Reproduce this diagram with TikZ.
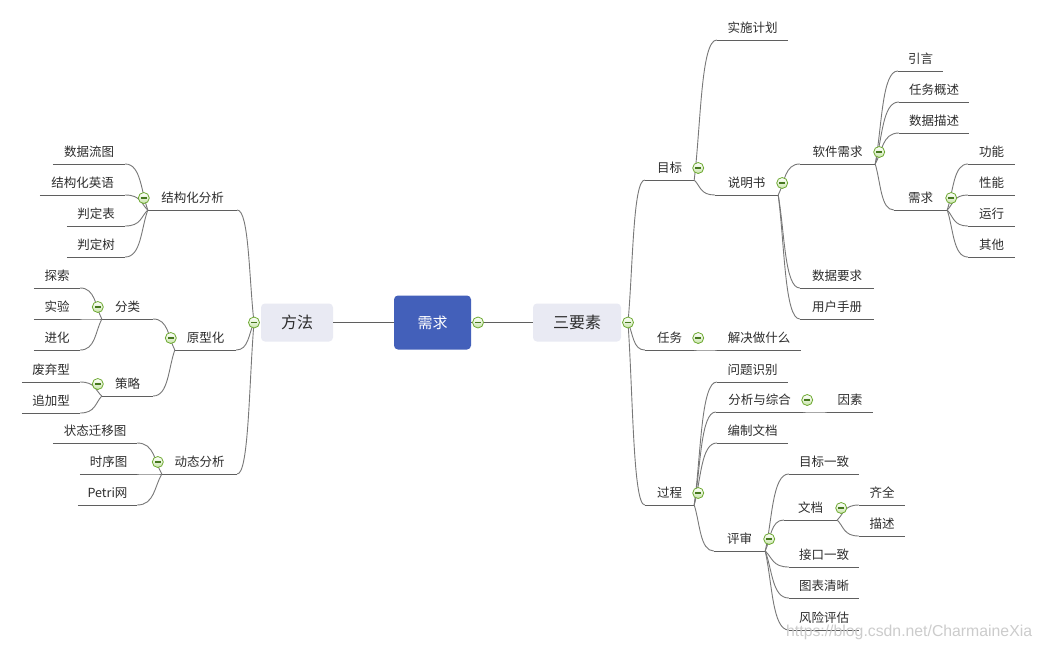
\documentclass[tikz,border=0pt]{standalone}
\usepackage{fontspec}
\setmainfont{Noto Sans CJK SC}
\newfontfamily\wmfont{Liberation Sans}
\usetikzlibrary{calc}
\definecolor{linegray}{RGB}{120,120,120}
\definecolor{ulgray}{RGB}{95,95,95}
\definecolor{textgray}{RGB}{45,45,45}
\definecolor{rootblue}{RGB}{67,96,186}
\definecolor{boxlav}{RGB}{233,234,243}
\definecolor{cgreen}{RGB}{110,170,50}
\definecolor{clight}{RGB}{200,228,170}
\definecolor{cdark}{RGB}{70,120,30}
\tikzset{
  topic/.style={anchor=south, inner sep=0pt, minimum height=24pt, text=textgray, font=\fontsize{12.5}{14}\selectfont},
  uline/.style={draw=ulgray, line width=0.9pt},
  link/.style={draw=ulgray, line width=0.9pt},
  branch/.style={draw=linegray, line width=0.9pt, to path={let \p1=(\tikztostart), \p2=(\tikztotarget) in .. controls ({\x1+0.3*(\x2-\x1)},{\y1+0.4*(\y2-\y1)}) and ({\x1+0.3*(\x2-\x1)},\y2) .. (\p2)}},
  collapser/.style={circle, minimum size=11pt, inner sep=0pt, draw=cgreen, line width=0.8pt, top color=white, bottom color=clight, path picture={\draw[cdark, line width=1.1pt] ([xshift=-3pt]path picture bounding box.center) -- ([xshift=3pt]path picture bounding box.center);}},
  rootbox/.style={fill=rootblue, rounded corners=4pt, minimum width=77pt, minimum height=54pt, text=white, font=\fontsize{15}{18}\selectfont},
  mainbox/.style={fill=boxlav, rounded corners=4pt, minimum height=38pt, text=textgray, font=\fontsize{16}{19}\selectfont},
}
\begin{document}
\begin{tikzpicture}[x=1pt,y=-1pt]
\fill[white] (0,0) rectangle (1042,649);
\useasboundingbox (0,0) rectangle (1042,649);

\node[rootbox] (xq) at (432.5,322.5) {需求};
\node[mainbox, minimum width=88pt] (sys) at (577,322.5) {三要素};
\node[mainbox, minimum width=72pt] (ff) at (297,322.5) {方法};

% right side
\node[topic, minimum width=49pt] (mubiao) at (669.5,180) {目标};
\node[topic, minimum width=49pt] (renwu) at (669.5,350) {任务};
\node[topic, minimum width=49pt] (guocheng) at (669.5,505) {过程};
\node[topic, minimum width=71pt] (shishi) at (752.5,40) {实施计划};
\node[topic, minimum width=63pt] (smsh) at (746.5,195) {说明书};
\node[topic, minimum width=84pt] (jiejue) at (759,350) {解决做什么};
\node[topic, minimum width=71pt] (wtsb) at (752.5,382) {问题识别};
\node[topic, minimum width=87pt] (fxzh) at (759.5,412) {分析与综合};
\node[topic, minimum width=71pt] (bzwd) at (752.5,443) {编制文档};
\node[topic, minimum width=51pt] (pingshen) at (739.5,551) {评审};
\node[topic, minimum width=75pt] (rjxq) at (837.5,164) {软件需求};
\node[topic, minimum width=74pt] (sjyq) at (837,288) {数据要求};
\node[topic, minimum width=74pt] (yhsc) at (837,319) {用户手册};
\node[topic, minimum width=46pt] (yinsu) at (850,412) {因素};
\node[topic, minimum width=70pt] (mbyz) at (824,474) {目标一致};
\node[topic, minimum width=53pt] (wendang) at (810.5,520) {文档};
\node[topic, minimum width=70pt] (jkyz) at (824,567) {接口一致};
\node[topic, minimum width=70pt] (tbqx) at (824,598) {图表清晰};
\node[topic, minimum width=70pt] (fxpg) at (824,630) {风险评估};
\node[topic, minimum width=45pt] (yinyan) at (920.5,71) {引言};
\node[topic, minimum width=70pt] (rwgs) at (934,102) {任务概述};
\node[topic, minimum width=70pt] (sjms) at (934,133) {数据描述};
\node[topic, minimum width=53pt] (xq2) at (920.5,210) {需求};
\node[topic, minimum width=46pt] (qiquan) at (882,505) {齐全};
\node[topic, minimum width=46pt] (miaoshu) at (882,536) {描述};
\node[topic, minimum width=47pt] (gongneng) at (991.5,164) {功能};
\node[topic, minimum width=47pt] (xingneng) at (991.5,195) {性能};
\node[topic, minimum width=47pt] (yunxing) at (991.5,226) {运行};
\node[topic, minimum width=47pt] (qita) at (991.5,257) {其他};

% left side
\node[topic, minimum width=89pt] (jgfx) at (192.5,210) {结构化分析};
\node[topic, minimum width=61pt] (yxh) at (205.5,350) {原型化};
\node[topic, minimum width=75pt] (dtfx) at (199.5,474) {动态分析};
\node[topic, minimum width=72pt] (sjlt) at (89,164) {数据流图};
\node[topic, minimum width=85pt] (jghyy) at (82.5,195) {结构化英语};
\node[topic, minimum width=58pt] (pdb) at (96,226) {判定表};
\node[topic, minimum width=58pt] (pds) at (96,257) {判定树};
\node[topic, minimum width=51pt] (fenlei) at (127.5,319) {分类};
\node[topic, minimum width=51pt] (celue) at (127.5,396) {策略};
\node[topic, minimum width=84pt] (ztqy) at (95,443) {状态迁移图};
\node[topic, minimum width=57pt] (sxt) at (108.5,474) {时序图};
\node[topic, minimum width=59pt] (petri) at (107.5,505) {Petri网};
\node[topic, minimum width=46pt] (tansuo) at (57,288) {探索};
\node[topic, minimum width=46pt] (shiyan) at (57,319) {实验};
\node[topic, minimum width=46pt] (jinhua) at (57,350) {进化};
\node[topic, minimum width=58pt] (feiqi) at (51,382) {废弃型};
\node[topic, minimum width=58pt] (zhuijia) at (51,413) {追加型};

\coordinate (jR) at (628,322.5);
\coordinate (jL) at (254,322.5);
\coordinate (jX) at (478,322.5);

% root links
\draw[link] (ff.east) -- (xq.west);
\draw[link] (xq.east) -- (sys.west);

% underlines
\foreach \n in {mubiao,renwu,guocheng,shishi,smsh,jiejue,wtsb,fxzh,bzwd,pingshen,rjxq,sjyq,yhsc,yinsu,mbyz,wendang,jkyz,tbqx,fxpg,yinyan,rwgs,sjms,xq2,qiquan,miaoshu,gongneng,xingneng,yunxing,qita,jgfx,yxh,dtfx,sjlt,jghyy,pdb,pds,fenlei,celue,ztqy,sxt,petri,tansuo,shiyan,jinhua,feiqi,zhuijia}
  \draw[uline] (\n.south west) -- (\n.south east);

% branches right
\foreach \b in {mubiao,renwu,guocheng}
  \draw[branch] (jR) to (\b.south west);
\foreach \a/\b in {mubiao/shishi,mubiao/smsh,smsh/rjxq,smsh/sjyq,smsh/yhsc,rjxq/yinyan,rjxq/rwgs,rjxq/sjms,rjxq/xq2,xq2/gongneng,xq2/xingneng,xq2/yunxing,xq2/qita,renwu/jiejue,guocheng/wtsb,guocheng/fxzh,guocheng/bzwd,guocheng/pingshen,fxzh/yinsu,pingshen/mbyz,pingshen/wendang,pingshen/jkyz,pingshen/tbqx,pingshen/fxpg,wendang/qiquan,wendang/miaoshu}
  \draw[branch] (\a.south east) to (\b.south west);

% branches left
\foreach \b in {jgfx,yxh,dtfx}
  \draw[branch] (jL) to (\b.south east);
\foreach \a/\b in {jgfx/sjlt,jgfx/jghyy,jgfx/pdb,jgfx/pds,yxh/fenlei,yxh/celue,fenlei/tansuo,fenlei/shiyan,fenlei/jinhua,celue/feiqi,celue/zhuijia,dtfx/ztqy,dtfx/sxt,dtfx/petri}
  \draw[branch] (\a.south west) to (\b.south east);

% collapse markers
\node[collapser] (c-jR) at (jR) {};
\node[collapser] (c-jL) at (jL) {};
\node[collapser] (c-jX) at (jX) {};
\foreach \n in {mubiao,renwu,guocheng,smsh,fxzh,pingshen,rjxq,xq2,wendang}
  \node[collapser] (c-\n) at ([shift={(4,-12)}]\n.south east) {};
\foreach \n in {jgfx,yxh,dtfx,fenlei,celue}
  \node[collapser] (c-\n) at ([shift={(-4,-12)}]\n.south west) {};

% watermark
\node[anchor=west, inner sep=0pt, text=black!20, font=\wmfont\fontsize{15.8}{17}\selectfont] (wm) at (786,632) {https://blog.csdn.net/CharmaineXia};
\end{tikzpicture}
\end{document}
